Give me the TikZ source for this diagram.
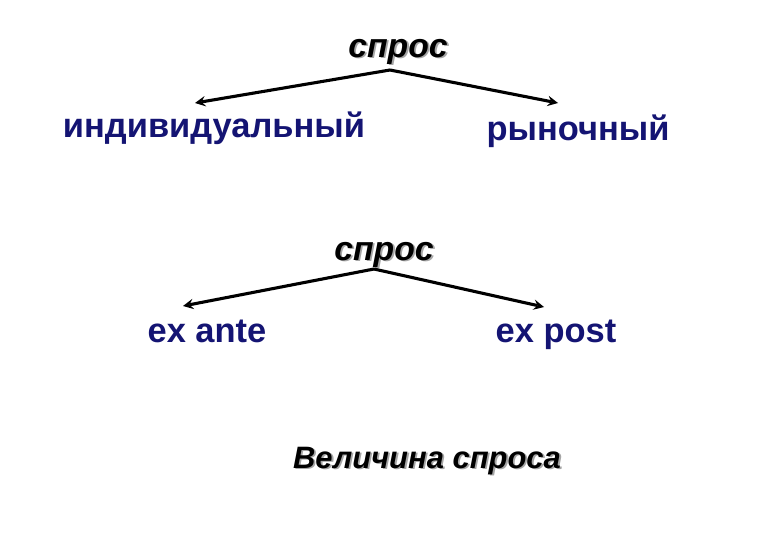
\documentclass[tikz,border=0pt]{standalone}
\usepackage{fontspec}
\setmainfont{Liberation Sans}
\definecolor{wordblue}{RGB}{20,20,115}
\newcommand\shtext[1]{\rlap{\kern1.3pt\raisebox{-1.3pt}{\color{black!35}#1}}#1}
\tikzset{
    word/.style={inner sep=0pt,anchor=base,text=wordblue,font=\fontsize{24.5}{30}\selectfont\bfseries},
    head/.style={inner sep=0pt,anchor=base,font=\fontsize{24}{28}\selectfont\itshape\bfseries},
    branch/.style={->,line width=2.2pt},
}
\begin{document}
\begin{tikzpicture}[x=0.025cm,y=-0.025cm,>=stealth]
\useasboundingbox(0,0)rectangle(780,540);
% first tree
\node[head] (s1) at (398,57) {\shtext{спрос}};
\coordinate (t1) at (390,70);
\coordinate (l1) at (195,103);
\coordinate (r1) at (558,103);
\draw[branch](t1)--(l1);
\draw[branch](t1)--(r1);
\node[word] (ind) at (214,137) {индивидуальный};
\node[word] (ryn) at (578,140) {рыночный};
% second tree
\node[head] (s2) at (384,260) {\shtext{спрос}};
\coordinate (t2) at (374,269);
\coordinate (l2) at (183,306);
\coordinate (r2) at (544,307);
\draw[branch](t2)--(l2);
\draw[branch](t2)--(r2);
\node[word] (ante) at (207,342) {ex ante};
\node[word] (post) at (556,342) {ex post};
\node[head,font=\fontsize{22}{26}\selectfont\itshape\bfseries] (vel) at (427,468) {\shtext{Величина спроса}};
\end{tikzpicture}
\end{document}
